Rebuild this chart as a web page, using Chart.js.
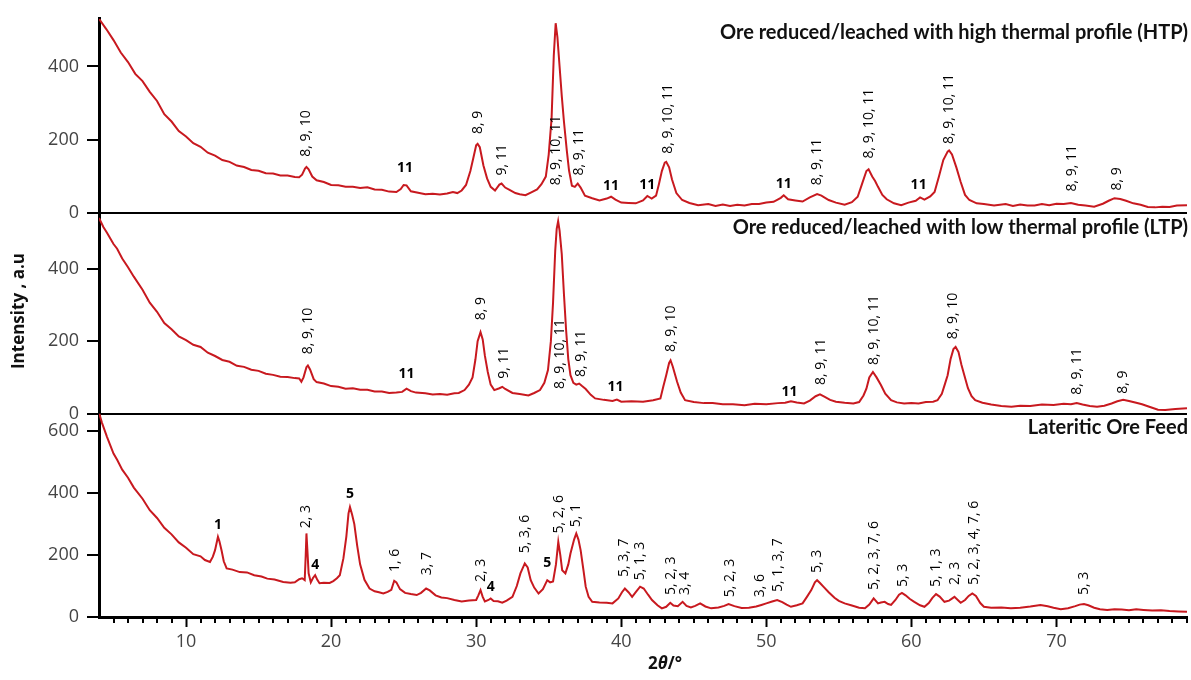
<!DOCTYPE html>
<html>
<head>
<meta charset="utf-8">
<script src="https://cdn.jsdelivr.net/npm/chart.js@4.4.1/dist/chart.umd.min.js"></script>
<style>
  html, body { margin: 0; padding: 0; background: #fff; }
  #wrap { width: 1191px; height: 680px; position: relative; }
</style>
</head>
<body>
<div id="wrap"><canvas id="xrdChart"></canvas></div>
<script>
// Datos (2theta en grados, intensidad en u.a.)

// Mineral reducido/lixiviado, perfil termico alto (HTP)
const htpTheta = [4.0, 4.5, 5.0, 5.5, 6.0, 6.5, 7.0, 7.5, 8.0, 8.5, 9.0, 9.5, 10.0, 10.5, 11.0, 11.5, 12.0, 12.5, 13.0, 13.5,
  14.0, 14.5, 15.0, 15.5, 16.0, 16.5, 17.0, 17.5, 17.8, 18.0, 18.2, 18.3, 18.45, 18.7, 19.0, 19.5, 20.0, 20.5, 21.0, 21.5,
  22.0, 22.5, 23.0, 23.5, 24.0, 24.5, 24.8, 25.0, 25.2, 25.5, 26.0, 26.5, 27.0, 27.5, 28.0, 28.4, 28.7, 29.0, 29.3, 29.6,
  29.8, 30.0, 30.1, 30.25, 30.5, 30.75, 31.0, 31.3, 31.6, 31.75, 32.0, 32.3, 32.7, 33.0, 33.4, 33.8, 34.2, 34.5, 34.8, 35.0,
  35.2, 35.35, 35.48, 35.6, 35.75, 35.9, 36.05, 36.25, 36.4, 36.6, 36.8, 37.0, 37.2, 37.5, 38.0, 38.5, 39.0, 39.3, 39.6, 40.0,
  40.5, 41.0, 41.5, 41.8, 42.1, 42.4, 42.6, 42.8, 43.0, 43.1, 43.3, 43.5, 43.8, 44.2, 44.7, 45.3, 46.0, 46.5, 47.0, 47.5,
  48.0, 48.5, 49.0, 49.5, 50.0, 50.5, 51.0, 51.2, 51.5, 52.0, 52.5, 53.0, 53.5, 53.8, 54.3, 54.8, 55.4, 55.9, 56.3, 56.6,
  56.9, 57.05, 57.3, 57.5, 57.7, 58.0, 58.3, 58.8, 59.3, 59.8, 60.3, 60.6, 60.9, 61.3, 61.6, 61.9, 62.2, 62.5, 62.6, 62.8,
  63.1, 63.4, 63.7, 64.0, 64.5, 65.0, 65.7, 66.5, 67.0, 67.5, 68.0, 68.5, 69.0, 69.5, 70.0, 70.5, 71.0, 71.5, 72.0, 72.6,
  73.2, 73.6, 74.0, 74.4, 74.8, 75.3, 75.8, 76.3, 76.8, 77.3, 77.8, 78.3, 79.0];
const htpIntensity = [530, 502, 472, 438, 412, 380, 360, 331, 306, 270, 250, 224, 209, 191, 181, 165, 157, 145, 140, 130,
  126, 118, 116, 109, 108, 103, 103, 99, 98, 105, 122, 126, 120, 100, 90, 85, 77, 76, 72, 72,
  69, 71, 65, 64, 59, 58, 66, 77, 76, 60, 56, 52, 53, 51, 54, 58, 55, 62, 77, 115,
  150, 185, 189, 180, 130, 95, 72, 62, 78, 81, 70, 64, 55, 52, 49, 57, 65, 79, 100, 160,
  260, 430, 518, 480, 400, 320, 250, 170, 117, 75, 72, 81, 70, 48, 41, 35, 40, 45, 37, 29,
  28, 27, 35, 47, 40, 48, 80, 115, 138, 140, 125, 92, 55, 36, 28, 22, 25, 20, 24, 20,
  23, 21, 25, 25, 29, 31, 42, 49, 38, 35, 32, 43, 52, 48, 36, 29, 23, 30, 45, 80,
  115, 120, 100, 88, 72, 50, 38, 27, 22, 29, 34, 43, 37, 46, 58, 100, 145, 168, 171, 160,
  125, 85, 50, 36, 27, 25, 21, 25, 20, 24, 21, 21, 25, 22, 26, 25, 28, 23, 21, 18,
  26, 34, 41, 39, 34, 27, 23, 17, 16, 18, 17, 21, 22];

// Mineral reducido/lixiviado, perfil termico bajo (LTP)
const ltpTheta = [4.0, 4.3, 4.55, 5.0, 5.25, 5.6, 6.0, 6.4, 7.0, 7.5, 8.0, 8.5, 9.0, 9.5, 10.0, 10.5, 11.0, 11.5, 12.0, 12.5,
  13.0, 13.5, 14.0, 14.5, 15.0, 15.5, 16.0, 16.5, 17.0, 17.5, 17.8, 17.95, 18.1, 18.3, 18.4, 18.55, 18.8, 19.0, 19.5, 20.0,
  20.5, 21.0, 21.5, 22.0, 22.5, 23.0, 23.5, 24.0, 24.5, 24.9, 25.2, 25.5, 25.85, 26.5, 27.0, 27.5, 28.0, 28.5, 28.8, 29.2,
  29.5, 29.75, 29.95, 30.1, 30.3, 30.45, 30.6, 30.8, 31.0, 31.25, 31.6, 31.8, 32.0, 32.5, 33.0, 33.6, 34.0, 34.4, 34.7, 34.95,
  35.15, 35.3, 35.45, 35.55, 35.65, 35.75, 35.9, 36.05, 36.2, 36.35, 36.5, 36.7, 36.9, 37.1, 37.3, 37.55, 37.9, 38.2, 38.8, 39.4,
  39.7, 40.0, 40.7, 41.5, 42.2, 42.7, 42.9, 43.1, 43.3, 43.4, 43.55, 43.85, 44.1, 44.4, 45.0, 45.7, 46.3, 47.0, 47.7, 48.5,
  49.2, 50.0, 50.8, 51.3, 51.7, 52.1, 52.6, 53.0, 53.4, 53.7, 54.0, 54.4, 54.8, 55.4, 56.0, 56.4, 56.7, 56.9, 57.1, 57.35,
  57.6, 57.9, 58.2, 58.6, 59.0, 59.5, 60.0, 60.5, 61.0, 61.5, 61.8, 62.1, 62.3, 62.5, 62.7, 62.9, 63.05, 63.25, 63.45, 63.65,
  63.9, 64.15, 64.4, 64.9, 65.5, 66.2, 66.9, 67.5, 68.2, 69.0, 69.8, 70.5, 71.0, 71.4, 71.8, 72.3, 72.8, 73.3, 73.8, 74.2,
  74.6, 75.0, 75.5, 75.9, 76.4, 77.0, 77.5, 78.2, 79.0];
const ltpIntensity = [540, 515, 499, 468, 455, 428, 404, 378, 342, 306, 281, 250, 233, 213, 203, 190, 184, 168, 159, 148,
  143, 132, 129, 121, 118, 110, 107, 102, 101, 98, 97, 88, 100, 128, 133, 122, 95, 87, 83, 76,
  74, 69, 70, 66, 66, 61, 61, 57, 58, 60, 69, 62, 58, 56, 53, 54, 52, 56, 57, 65,
  80, 100, 150, 200, 225, 205, 160, 115, 80, 65, 70, 74, 68, 57, 54, 50, 57, 65, 85, 120,
  200, 307, 450, 510, 531, 505, 440, 330, 230, 150, 106, 85, 80, 83, 76, 68, 52, 42, 38, 35,
  39, 33, 34, 33, 37, 42, 75, 106, 140, 147, 130, 88, 58, 37, 32, 29, 29, 26, 26, 23,
  27, 26, 29, 30, 34, 31, 28, 36, 48, 53, 47, 38, 33, 30, 28, 32, 50, 69, 100, 115,
  100, 79, 55, 37, 31, 28, 29, 28, 32, 33, 37, 55, 80, 106, 150, 178, 184, 170, 135, 106,
  70, 48, 37, 30, 25, 21, 19, 22, 21, 25, 24, 27, 26, 29, 25, 21, 19, 22, 28, 34,
  38, 35, 30, 26, 19, 11, 10, 13, 15];

// Mineral lateritico de alimentacion
const feedTheta = [4.0, 4.2, 4.55, 5.0, 5.25, 5.6, 6.0, 6.4, 7.0, 7.5, 8.0, 8.5, 9.0, 9.5, 10.0, 10.5, 11.0, 11.3, 11.65, 11.85,
  12.0, 12.2, 12.3, 12.45, 12.6, 12.8, 13.2, 13.7, 14.2, 14.7, 15.2, 15.6, 16.1, 16.7, 17.2, 17.5, 17.8, 18.0, 18.18, 18.25,
  18.3, 18.36, 18.45, 18.6, 18.75, 18.9, 19.05, 19.2, 19.5, 19.9, 20.15, 20.4, 20.6, 20.85, 21.05, 21.2, 21.3, 21.45, 21.6, 21.8,
  22.0, 22.3, 22.65, 23.0, 23.3, 23.6, 23.9, 24.15, 24.35, 24.5, 24.75, 25.1, 25.5, 25.9, 26.2, 26.55, 26.8, 27.2, 27.6, 28.0,
  28.5, 29.0, 29.5, 30.0, 30.15, 30.3, 30.45, 30.6, 30.85, 31.0, 31.2, 31.5, 31.8, 32.1, 32.5, 32.8, 33.05, 33.35, 33.55, 33.76,
  34.0, 34.3, 34.6, 34.9, 35.1, 35.3, 35.5, 35.66, 35.8, 35.93, 36.15, 36.35, 36.5, 36.75, 36.9, 37.05, 37.2, 37.4, 37.55, 37.75,
  38.0, 38.5, 39.0, 39.4, 39.8, 40.05, 40.25, 40.5, 40.75, 41.0, 41.3, 41.55, 41.85, 42.12, 42.5, 42.8, 43.1, 43.38, 43.6, 43.9,
  44.23, 44.5, 44.8, 45.1, 45.44, 45.8, 46.2, 46.7, 47.1, 47.4, 47.8, 48.3, 48.8, 49.3, 49.66, 50.0, 50.4, 50.75, 51.1, 51.4,
  51.7, 52.1, 52.5, 52.8, 53.1, 53.35, 53.5, 53.7, 54.0, 54.3, 54.7, 55.0, 55.4, 55.9, 56.4, 56.8, 57.1, 57.4, 57.7, 57.9,
  58.16, 58.4, 58.6, 58.9, 59.15, 59.35, 59.6, 59.9, 60.2, 60.6, 60.9, 61.2, 61.45, 61.7, 61.95, 62.28, 62.6, 62.97, 63.2, 63.4,
  63.7, 63.95, 64.2, 64.45, 64.75, 65.0, 65.5, 66.2, 66.86, 67.5, 68.2, 68.9, 69.4, 69.8, 70.3, 70.8, 71.3, 71.6, 71.9, 72.2,
  72.6, 73.0, 73.5, 74.0, 74.5, 75.0, 75.5, 76.0, 76.6, 77.2, 77.8, 78.4, 79.0];
const feedIntensity = [660, 628, 582, 528, 508, 476, 450, 418, 382, 345, 320, 288, 267, 241, 224, 203, 196, 184, 178, 195,
  216, 259, 245, 215, 180, 157, 153, 145, 144, 135, 131, 124, 121, 113, 111, 112, 122, 125, 119, 200,
  270, 220, 141, 112, 126, 135, 120, 109, 111, 110, 116, 125, 135, 190, 260, 335, 355, 330, 300, 230,
  170, 120, 92, 83, 80, 76, 81, 88, 117, 112, 90, 78, 74, 71, 78, 92, 86, 70, 63, 61,
  55, 50, 53, 55, 70, 87, 65, 50, 55, 60, 52, 51, 46, 53, 65, 100, 141, 173, 160, 119,
  95, 76, 90, 119, 112, 115, 170, 243, 200, 151, 141, 170, 205, 250, 270, 250, 216, 150, 98, 65,
  49, 47, 46, 44, 60, 80, 92, 80, 65, 80, 98, 92, 72, 55, 38, 28, 33, 46, 37, 35,
  49, 36, 31, 36, 44, 34, 28, 31, 36, 42, 35, 29, 30, 34, 39, 44, 50, 55, 48, 40,
  33, 38, 44, 65, 87, 112, 119, 110, 95, 80, 62, 52, 44, 37, 30, 28, 40, 60, 44, 47,
  49, 42, 39, 55, 72, 78, 70, 58, 49, 38, 33, 45, 62, 74, 66, 49, 53, 65, 55, 46,
  55, 68, 76, 68, 45, 33, 30, 31, 28, 30, 34, 39, 35, 30, 25, 28, 35, 40, 42, 38,
  30, 25, 23, 25, 24, 22, 25, 23, 21, 22, 19, 18, 17];

// Etiquetas de fases: posicion 2theta, intensidad de anclaje, texto
const htpLabelTheta = [18.3, 25.1, 30.1, 31.75, 35.5, 37.1, 39.3, 41.8, 43.2, 51.2, 53.5, 57.1, 60.5, 62.6, 71.1, 74.2];
const htpLabelY = [154, 122, 216, 103, 76, 103, 73, 76, 162, 81, 76, 149, 76, 189, 59, 62];
const htpLabelText = ["8, 9, 10", "11", "8, 9", "9, 11", "8, 9, 10, 11", "8, 9, 11", "11", "11", "8, 9, 10, 11", "11",
  "8, 9, 11", "8, 9, 10, 11", "11", "8, 9, 10, 11", "8, 9, 11", "8, 9"];

const ltpLabelTheta = [18.4, 25.2, 30.3, 31.9, 35.8, 37.2, 39.6, 43.4, 51.6, 53.8, 57.4, 62.9, 71.4, 74.6];
const ltpLabelY = [164, 110, 258, 96, 68, 101, 74, 170, 60, 79, 134, 205, 52, 55];
const ltpLabelText = ["8, 9, 10", "11", "8, 9", "9, 11", "8, 9, 10, 11", "8, 9, 11", "11", "8, 9, 10", "11",
  "8, 9, 11", "8, 9, 10, 11", "8, 9, 10", "8, 9, 11", "8, 9"];

const feedLabelTheta = [12.2, 18.3, 18.9, 21.3, 24.4, 26.6, 30.3, 31.0, 33.4, 34.9, 35.7, 36.9, 40.2, 41.3, 43.4, 44.4,
  47.5, 49.6, 50.8, 53.5, 57.4, 59.4, 61.7, 63.0, 64.3, 71.9];
const feedLabelY = [296, 287, 167, 396, 145, 135, 113, 97, 206, 174, 270, 290, 129, 119, 71, 71,
  64, 64, 81, 142, 87, 97, 97, 103, 103, 71];
const feedLabelText = ["1", "2, 3", "4", "5", "1, 6", "3, 7", "2, 3", "4", "5, 3, 6", "5", "5, 2, 6", "5, 1",
  "5, 3, 7", "5, 1, 3", "5, 2, 3", "3, 4", "5, 2, 3", "3, 6", "5, 1, 3, 7", "5, 3", "5, 2, 3, 7, 6", "5, 3",
  "5, 1, 3", "2, 3", "5, 2, 3, 4, 7, 6", "5, 3"];

const panelTitles = [
  "Ore reduced/leached with high thermal profile (HTP)",
  "Ore reduced/leached with low thermal profile (LTP)",
  "Lateritic Ore Feed"
];
const yTicks = [0, 200, 400, 600];

const lineColor = "#c8191f";
const panels = [
  { id: "y1", theta: htpTheta, inten: htpIntensity, max: 530, weight: 196,
    lt: htpLabelTheta, ly: htpLabelY, lx: htpLabelText, title: panelTitles[0] },
  { id: "y2", theta: ltpTheta, inten: ltpIntensity, max: 553, weight: 202,
    lt: ltpLabelTheta, ly: ltpLabelY, lx: ltpLabelText, title: panelTitles[1] },
  { id: "y3", theta: feedTheta, inten: feedIntensity, max: 657, weight: 205,
    lt: feedLabelTheta, ly: feedLabelY, lx: feedLabelText, title: panelTitles[2] },
];

// Escalas: eje x compartido y tres ejes y apilados (el primero definido queda abajo)
const scales = {
  x: {
    type: "linear",
    min: 4,
    max: 79,
    border: { color: "#000", width: 3 },
    grid: {
      drawOnChartArea: false,
      tickLength: 10,
      tickWidth: 2,
      tickColor: (c) => (c.tick && c.tick.value % 10 === 0 ? "#000" : "transparent"),
    },
    ticks: {
      stepSize: 1,
      autoSkip: false,
      maxRotation: 0,
      padding: 4,
      color: "#444",
      font: { family: "Open Sans", size: 18 },
      callback: (v) => (v % 10 === 0 ? v : ""),
    },
    afterFit: (s) => { s.height = 63; },
  },
};
panels.slice().reverse().forEach((p) => {
  scales[p.id] = {
    type: "linear",
    position: "left",
    stack: "xrd",
    stackWeight: p.weight,
    min: 0,
    max: p.max,
    border: { color: "#000", width: 3 },
    grid: {
      color: (c) => (c.tick && c.tick.value === 0 ? "#000" : "transparent"),
      lineWidth: 2,
      tickColor: "#000",
      tickLength: 12,
      tickWidth: 2,
    },
    ticks: {
      stepSize: 200,
      includeBounds: false,
      padding: 8,
      color: "#444",
      font: { family: "Open Sans", size: 18 },
      callback: (v) => (yTicks.includes(v) ? v : ""),
    },
    afterFit: (s) => { s.width = 99; },
  };
});

// Textos: titulos, etiquetas de picos, titulos de ejes
const textPlugin = {
  id: "xrdText",
  afterDatasetsDraw(chart) {
    const ctx = chart.ctx;
    const xs = chart.scales.x;
    ctx.save();
    // marcas menores del eje x
    ctx.strokeStyle = "#000";
    ctx.lineWidth = 2;
    for (let v = 5; v <= 79; v++) {
      if (v % 10 === 0) continue;
      const px = Math.round(xs.getPixelForValue(v));
      ctx.beginPath();
      ctx.moveTo(px, xs.top);
      ctx.lineTo(px, xs.top + 6);
      ctx.stroke();
    }
    panels.forEach((p) => {
      const ys = chart.scales[p.id];
      ctx.fillStyle = "#111";
      ctx.font = "bold 20px Lato";
      ctx.textAlign = "right";
      ctx.textBaseline = "middle";
      ctx.fillText(p.title, 1188, ys.top + 14);
      p.lt.forEach((t, i) => {
        const px = xs.getPixelForValue(t);
        const py = ys.getPixelForValue(p.ly[i]);
        const txt = p.lx[i];
        ctx.fillStyle = "#000";
        if (txt.includes(",")) {
          ctx.save();
          ctx.translate(px, py);
          ctx.rotate(-Math.PI / 2);
          ctx.font = "500 14px 'Open Sans'";
          ctx.textAlign = "left";
          ctx.textBaseline = "middle";
          ctx.fillText(txt, 0, 0);
          ctx.restore();
        } else {
          ctx.font = "bold 14px 'Open Sans'";
          ctx.textAlign = "center";
          ctx.textBaseline = "middle";
          ctx.fillText(txt, px, py);
        }
      });
    });
    // titulo eje y
    ctx.save();
    ctx.translate(19, 311);
    ctx.rotate(-Math.PI / 2);
    ctx.fillStyle = "#111";
    ctx.font = "bold 17px 'Open Sans'";
    ctx.textAlign = "center";
    ctx.textBaseline = "middle";
    ctx.fillText("Intensity , a.u", 0, 0);
    ctx.restore();
    // titulo eje x: 2θ/°
    ctx.fillStyle = "#111";
    ctx.textBaseline = "middle";
    ctx.textAlign = "left";
    let x0 = 648;
    const yT = 664;
    ctx.font = "bold 17px 'Open Sans'";
    ctx.fillText("2", x0, yT);
    x0 += ctx.measureText("2").width;
    ctx.font = "italic bold 17px 'Open Sans'";
    ctx.fillText("θ", x0, yT);
    x0 += ctx.measureText("θ").width;
    ctx.font = "bold 17px 'Open Sans'";
    ctx.fillText("/°", x0, yT);
    ctx.restore();
  },
};

document.addEventListener("DOMContentLoaded", () => {
  const ctx = document.getElementById("xrdChart").getContext("2d");
  new Chart(ctx, {
    type: "line",
    data: {
      datasets: panels.map((p) => ({
        label: p.title,
        yAxisID: p.id,
        data: p.theta.map((t, i) => ({ x: t, y: p.inten[i] })),
        borderColor: lineColor,
        borderWidth: 2,
        pointRadius: 0,
        tension: 0,
        fill: false,
      })),
    },
    options: {
      responsive: true,
      maintainAspectRatio: false,
      animation: false,
      layout: { padding: { top: 14, right: 0, left: 0, bottom: 0 } },
      scales: scales,
      plugins: {
        legend: { display: false },
        tooltip: { enabled: false },
      },
    },
    plugins: [textPlugin],
  });
});
</script>
</body>
</html>
